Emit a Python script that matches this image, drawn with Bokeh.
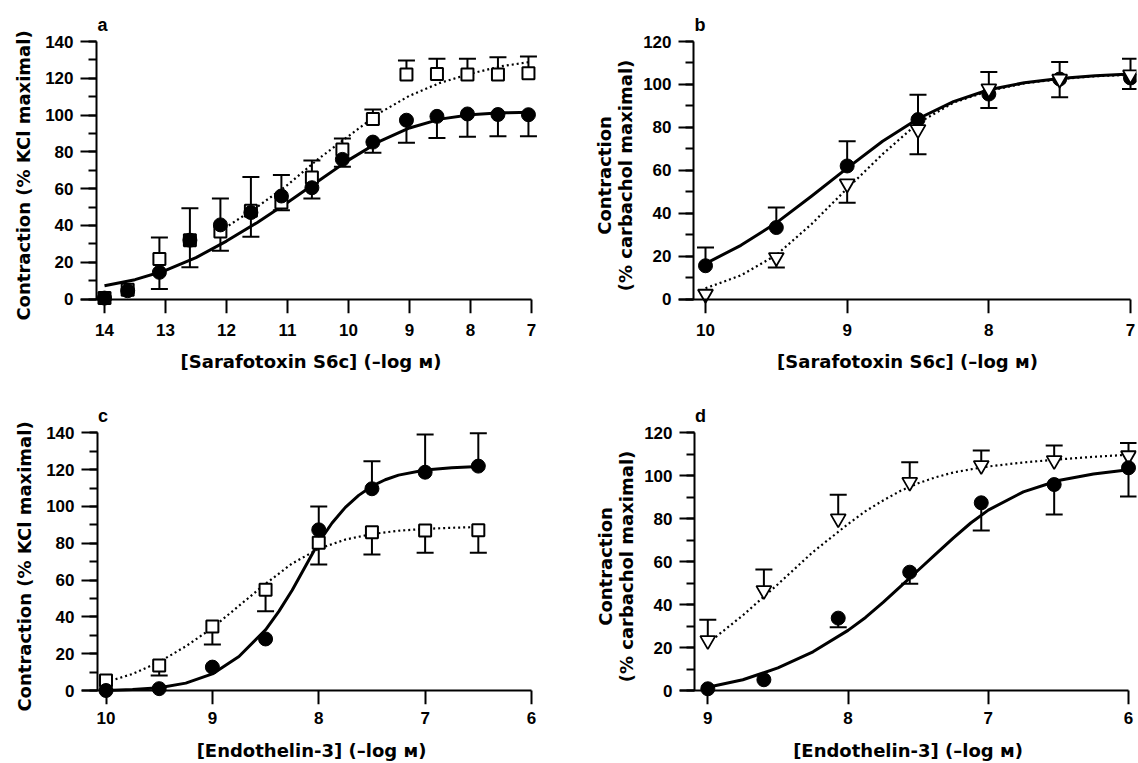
from bokeh.plotting import figure
from bokeh.layouts import column, row
from bokeh.models import FixedTicker, SingleIntervalTicker, Range1d, LinearAxis
from bokeh.embed import file_html
from bokeh.resources import INLINE

# ---------------- data ----------------
# Panel a : Sarafotoxin S6c, % KCl maximal
a_x = [14.0, 13.62, 13.1, 12.6, 12.1, 11.6, 11.1, 10.6, 10.1, 9.6, 9.05, 8.55, 8.05, 7.55, 7.05]
a_circ = [0.5, 4.5, 14.5, 32.0, 40.3, 47.0, 56.0, 60.5, 75.9, 85.3, 97.2, 99.3, 100.6, 100.3, 100.2]
a_circ_lo = [None, None, 5.4, 17.2, 26.2, 33.8, 48.2, 54.7, 71.9, 79.5, 84.9, 87.6, 88.2, 88.5, 88.5]
a_sq = [0.5, 5.0, 21.7, 32.0, 36.7, 48.0, 52.4, 66.0, 81.3, 97.9, 122.0, 122.3, 122.0, 122.0, 122.8]
a_sq_hi = [None, None, 33.4, 49.3, 54.7, 66.3, 67.4, 75.3, 87.2, 103.0, 129.7, 130.6, 130.6, 131.5, 131.8]
a_fit_x = [14.0, 13.5, 13.0, 12.5, 12.0, 11.5, 11.0, 10.5, 10.0, 9.5, 9.0, 8.5, 8.0, 7.5, 7.0]
a_fit_circ = [7.2, 10.5, 15.5, 22.5, 31.5, 41.5, 52.5, 64.0, 75.5, 85.5, 93.0, 97.8, 100.2, 101.2, 101.6]
a_fit_sq_x = [12.1, 11.5, 11.0, 10.5, 10.0, 9.5, 9.0, 8.5, 8.0, 7.5, 7.0]
a_fit_sq = [37.0, 50.0, 62.0, 76.0, 88.5, 101.0, 110.5, 117.5, 122.5, 126.5, 129.0]
a_xticks = [14, 13, 12, 11, 10, 9, 8, 7]

# Panel b : Sarafotoxin S6c, % carbachol maximal
b_x = [10.0, 9.5, 9.0, 8.5, 8.0, 7.5, 7.0]
b_circ = [15.5, 33.3, 62.0, 83.6, 95.5, 102.5, 103.0]
b_circ_hi = [24.0, 42.6, 73.5, 95.2, 105.8, 110.4, 112.0]
b_tri = [2.3, 19.4, 53.7, 79.0, 98.0, 102.5, 104.5]
b_tri_lo = [None, 14.7, 44.9, 67.4, 89.0, 94.0, 97.9]
b_fit_x = [10.0, 9.75, 9.5, 9.25, 9.0, 8.75, 8.5, 8.25, 8.0, 7.75, 7.5, 7.25, 7.0]
b_fit_circ = [16.5, 25.0, 35.5, 48.0, 61.0, 73.5, 84.0, 92.0, 97.5, 100.8, 102.8, 104.0, 104.8]
b_fit_tri = [5.0, 11.0, 20.5, 35.0, 51.5, 67.5, 82.0, 91.5, 97.0, 100.5, 102.5, 103.8, 104.5]
b_xticks = [10, 9, 8, 7]

# Panel c : Endothelin-3, % KCl maximal
c_x = [10.0, 9.5, 9.0, 8.5, 8.0, 7.5, 7.0, 6.5]
c_circ = [0.0, 1.0, 12.7, 28.0, 87.3, 109.6, 118.6, 121.9]
c_circ_hi = [None, None, None, None, 100.0, 124.6, 139.1, 139.8]
c_sq = [5.4, 13.6, 34.8, 54.7, 80.2, 86.0, 86.9, 87.0]
c_sq_lo = [None, 8.2, 25.0, 43.1, 68.5, 73.9, 74.8, 74.8]
c_fit_circ_x = [10.0, 9.75, 9.5, 9.25, 9.0, 8.75, 8.5, 8.375, 8.25, 8.125, 8.0, 7.875,
                7.75, 7.625, 7.5, 7.375, 7.25, 7.0, 6.75, 6.5]
c_fit_circ = [0.0, 0.5, 1.5, 4.0, 9.0, 18.5, 33.0, 43.0, 54.5, 67.5, 80.5, 91.0,
              99.5, 106.0, 111.0, 114.5, 117.0, 119.8, 121.0, 121.7]
c_fit_sq_x = [10.0, 9.75, 9.5, 9.25, 9.0, 8.75, 8.5, 8.25, 8.0, 7.75, 7.5, 7.25, 7.0, 6.75, 6.5]
c_fit_sq = [4.5, 9.0, 15.5, 24.0, 34.0, 46.0, 58.0, 69.0, 77.0, 82.0, 85.0, 86.8, 87.8, 88.4, 88.8]
c_xticks = [10, 9, 8, 7, 6]

# Panel d : Endothelin-3, % carbachol maximal
d_x = [9.0, 8.6, 8.07, 7.56, 7.05, 6.53, 6.0]
d_circ = [0.8, 5.0, 33.7, 55.1, 87.4, 95.9, 103.7]
d_circ_lo = [None, None, 29.5, 49.7, 74.5, 82.0, 90.3]
d_tri = [23.3, 46.6, 80.0, 97.0, 104.8, 107.1, 109.4]
d_tri_hi = [32.9, 56.3, 91.1, 106.3, 111.8, 114.1, 115.3]
d_fit_x = [9.0, 8.75, 8.5, 8.25, 8.0, 7.875, 7.75, 7.625, 7.5, 7.375, 7.25, 7.125,
           7.0, 6.75, 6.5, 6.25, 6.0]
d_fit_circ = [1.5, 5.0, 10.5, 18.0, 28.0, 34.0, 41.0, 48.5, 56.0, 63.5, 71.0, 78.0,
              84.0, 92.5, 97.8, 100.8, 102.8]
d_fit_tri = [22.0, 35.0, 49.5, 64.5, 77.5, 83.5, 88.5, 93.0, 96.5, 99.3, 101.5, 103.0,
             104.3, 106.2, 107.6, 108.8, 109.8]
d_xticks = [9, 8, 7, 6]

# ---------------- styling / layout ----------------
TICK_FONT = "Liberation Sans"
LABEL_FONT = "DejaVu Sans"
INK = "#000000"


def at(v1, p1, v2, p2, q):
    return v1 + (q - p1) * (v2 - v1) / (p2 - p1)


def hide_labels(ax):
    ax.major_label_text_color = None
    ax.major_label_text_alpha = 0
    ax.major_label_text_font_size = "1px"
    ax.major_label_standoff = 0


def make_panel(letter, fig_box, frame, yaxis_px, xcal, ycal, xticks, ymax, xlabel, ylabel,
               xlab_standoff, ylab_standoff):
    fx, fy, fw, fh = fig_box
    fl, fr, ft, fb = frame
    (xv1, xp1), (xv2, xp2) = xcal
    (yv1, yp1), (yv2, yp2) = ycal
    x_left = at(xv1, xp1, xv2, xp2, fl)
    x_right = at(xv1, xp1, xv2, xp2, fr)
    x_yaxis = at(xv1, xp1, xv2, xp2, yaxis_px)
    y_top = at(yv1, yp1, yv2, yp2, ft)
    y_bot = at(yv1, yp1, yv2, yp2, fb)
    p = figure(width=fw, height=fh,
               x_range=Range1d(x_left, x_right), y_range=Range1d(y_bot, y_top),
               output_backend="svg", toolbar_location=None,
               min_border_left=fl - fx, min_border_right=fx + fw - fr,
               min_border_top=ft - fy, min_border_bottom=fy + fh - fb)
    p.outline_line_color = None
    p.grid.visible = False
    p.background_fill_color = "white"
    p.border_fill_color = "white"

    p.title.text = letter
    p.title.text_font = TICK_FONT
    p.title.text_font_style = "bold"
    p.title.text_font_size = "18px"
    p.title.align = "left"
    p.title.offset = yaxis_px - fl + 1
    p.title.standoff = 5
    p.title.text_color = INK

    # x: labels at the frame bottom, line + ticks at y = 0
    xa = p.xaxis[0]
    xa.ticker = FixedTicker(ticks=xticks, minor_ticks=[])
    xa.axis_line_color = None
    xa.major_tick_line_color = None
    xa.minor_tick_line_color = None
    xa.major_tick_out = 0
    xa.major_tick_in = 0
    xa.major_label_text_font = TICK_FONT
    xa.major_label_text_font_style = "bold"
    xa.major_label_text_font_size = "17px"
    xa.major_label_text_color = INK
    xa.major_label_standoff = xlab_standoff[0]
    xa.axis_label = xlabel
    xa.axis_label_text_font = LABEL_FONT
    xa.axis_label_text_font_style = "bold"
    xa.axis_label_text_font_size = "18px"
    xa.axis_label_text_color = INK
    xa.axis_label_standoff = xlab_standoff[1]

    xline = LinearAxis(ticker=FixedTicker(ticks=xticks, minor_ticks=[]),
                       fixed_location=0, bounds=(min(xticks), x_left))
    xline.axis_line_width = 2
    xline.axis_line_color = INK
    xline.major_tick_line_width = 2
    xline.major_tick_line_color = INK
    xline.major_tick_out = 0
    xline.major_tick_in = 14
    xline.minor_tick_line_color = None
    hide_labels(xline)
    p.add_layout(xline, "above")

    # y: labels at the frame left, line + ticks at the y-axis position
    ya = p.yaxis[0]
    ya.ticker = SingleIntervalTicker(interval=20, num_minor_ticks=2)
    ya.bounds = (0, ymax)
    ya.axis_line_color = None
    ya.major_tick_line_color = None
    ya.minor_tick_line_color = None
    ya.major_tick_out = 0
    ya.major_tick_in = 0
    ya.minor_tick_out = 0
    ya.minor_tick_in = 0
    ya.major_label_text_font = TICK_FONT
    ya.major_label_text_font_style = "bold"
    ya.major_label_text_font_size = "17px"
    ya.major_label_text_color = INK
    ya.major_label_standoff = ylab_standoff[0]
    ya.axis_label = ylabel
    ya.axis_label_text_font = LABEL_FONT
    ya.axis_label_text_font_style = "bold"
    ya.axis_label_text_font_size = "18px"
    ya.axis_label_text_line_height = 1.0
    ya.axis_label_text_color = INK
    ya.axis_label_standoff = ylab_standoff[1]

    yline = LinearAxis(ticker=SingleIntervalTicker(interval=20, num_minor_ticks=2),
                       fixed_location=x_yaxis, bounds=(0, ymax))
    yline.axis_line_width = 2
    yline.axis_line_color = INK
    yline.major_tick_line_width = 2
    yline.major_tick_line_color = INK
    yline.major_tick_out = 0
    yline.major_tick_in = 17
    yline.minor_tick_line_width = 2
    yline.minor_tick_line_color = INK
    yline.minor_tick_out = 0
    yline.minor_tick_in = 8
    hide_labels(yline)
    p.add_layout(yline, "right")
    return p


def err_bars(p, xs, ys, errs):
    ex = [x for x, e in zip(xs, errs) if e is not None]
    ey = [y for y, e in zip(ys, errs) if e is not None]
    ee = [e for e in errs if e is not None]
    p.segment(x0=ex, y0=ey, x1=ex, y1=ee, line_width=2, line_color=INK)
    p.scatter(ex, ee, marker="dash", size=17, line_width=2, line_color=INK)


def solid_curve(p, xs, ys):
    p.line(xs, ys, line_width=3, line_color=INK, line_join="round")


def dotted_curve(p, xs, ys):
    p.line(xs, ys, line_width=2.2, line_color=INK, line_dash="2 3")


def filled(p, xs, ys):
    p.scatter(xs, ys, marker="circle", size=14, fill_color=INK, line_color=INK, line_width=1)


def open_square(p, xs, ys):
    p.scatter(xs, ys, marker="square", size=12, fill_color="white", line_color=INK, line_width=2)


def open_tri(p, xs, ys):
    p.scatter(xs, ys, marker="inverted_triangle", size=15, fill_color="white", line_color=INK, line_width=1.8)


XL_S = "[Sarafotoxin S6c] (\u2013log \u1d0d)"
XL_E = "[Endothelin-3] (\u2013log \u1d0d)"
YL_K = "Contraction (% KCl maximal)"
YL_C = "Contraction\n(% carbachol maximal)"

TOP_XLAB = (10, 12)
BOT_XLAB = (7, 13)
K_YLAB = (7, 8)
C_YLAB = (7, 4)

pa = make_panel("a", (0, 0, 569, 380), (80, 541, 37, 313), 96,
                ((14, 104), (7, 531)), ((0, 298.5), (140, 41)), a_xticks, 140, XL_S, YL_K,
                TOP_XLAB, K_YLAB)
solid_curve(pa, a_fit_x, a_fit_circ)
dotted_curve(pa, a_fit_sq_x, a_fit_sq)
err_bars(pa, a_x, a_sq, a_sq_hi)
err_bars(pa, a_x, a_circ, a_circ_lo)
open_square(pa, a_x, a_sq)
filled(pa, a_x, a_circ)

pb = make_panel("b", (569, 0, 569, 380), (678, 1136, 37, 313), 693,
                ((10, 705), (7, 1130)), ((0, 298.5), (120, 41)), b_xticks, 120, XL_S, YL_C,
                TOP_XLAB, C_YLAB)
solid_curve(pb, b_fit_x, b_fit_circ)
dotted_curve(pb, b_fit_x, b_fit_tri)
err_bars(pb, b_x, b_circ, b_circ_hi)
err_bars(pb, b_x, b_tri, b_tri_lo)
filled(pb, b_x, b_circ)
open_tri(pb, b_x, b_tri)

pc = make_panel("c", (0, 380, 569, 383), (81, 541, 428, 704), 96.5,
                ((10, 105.5), (6, 531)), ((0, 690), (140, 432.3)), c_xticks, 140, XL_E, YL_K,
                BOT_XLAB, K_YLAB)
solid_curve(pc, c_fit_circ_x, c_fit_circ)
dotted_curve(pc, c_fit_sq_x, c_fit_sq)
err_bars(pc, c_x, c_circ, c_circ_hi)
err_bars(pc, c_x, c_sq, c_sq_lo)
open_square(pc, c_x, c_sq)
filled(pc, c_x, c_circ)

pd = make_panel("d", (569, 380, 569, 383), (679, 1136, 428, 704), 693.5,
                ((9, 707.3), (6, 1128)), ((0, 690), (120, 432.3)), d_xticks, 120, XL_E, YL_C,
                BOT_XLAB, C_YLAB)
dotted_curve(pd, d_fit_x, d_fit_tri)
solid_curve(pd, d_fit_x, d_fit_circ)
err_bars(pd, d_x, d_tri, d_tri_hi)
err_bars(pd, d_x, d_circ, d_circ_lo)
open_tri(pd, d_x, d_tri)
filled(pd, d_x, d_circ)

layout = column(row(pa, pb), row(pc, pd))
open("out.html", "w").write(file_html(layout, INLINE))
